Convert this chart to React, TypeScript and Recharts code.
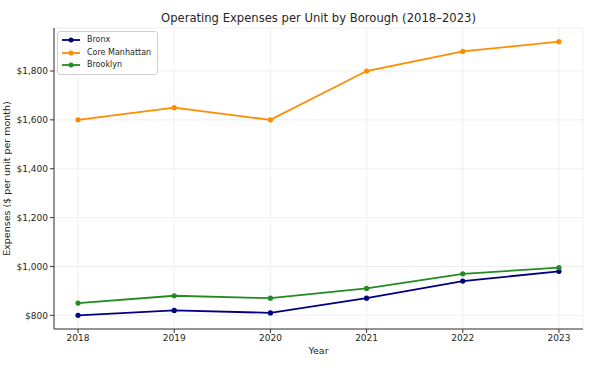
import React from 'react';
import { LineChart, Line, XAxis, YAxis, CartesianGrid } from 'recharts';

const years = [2018, 2019, 2020, 2021, 2022, 2023];
const bronx = [800, 820, 810, 870, 940, 980];
const coreManhattan = [1600, 1650, 1600, 1800, 1880, 1920];
const brooklyn = [850, 880, 870, 910, 970, 995];
const yTicks = [800, 1000, 1200, 1400, 1600, 1800];

const seriesInfo = [
  { key: 'bronx', label: 'Bronx', color: '#000080' },
  { key: 'core', label: 'Core Manhattan', color: '#ff8c00' },
  { key: 'brooklyn', label: 'Brooklyn', color: '#228b22' },
];

const data = years.map((year, i) => ({
  year,
  bronx: bronx[i],
  core: coreManhattan[i],
  brooklyn: brooklyn[i],
}));

const font = '"DejaVu Sans", sans-serif';
const textColor = '#262626';

// legend box sits over the plot, top-left like matplotlib's "best"
function LegendBox() {
  return (
    <div
      style={{
        position: 'absolute',
        left: 57,
        top: 31,
        whiteSpace: 'nowrap',
        background: 'rgba(255,255,255,0.85)',
        border: '1px solid #d0d0d0',
        borderRadius: 3,
        padding: '2px 6px 2px 3px',
        fontFamily: font,
        fontSize: 8,
        color: textColor,
        lineHeight: '12.5px',
      }}
    >
      {seriesInfo.map((s) => (
        <div key={s.key} style={{ display: 'flex', alignItems: 'center' }}>
          <svg width={20} height={8} style={{ marginRight: 6 }}>
            <line x1={1} y1={4} x2={19} y2={4} stroke={s.color} strokeWidth={1.8} />
            <circle cx={10} cy={4} r={2.5} fill={s.color} />
          </svg>
          <span>{s.label}</span>
        </div>
      ))}
    </div>
  );
}

export default function App() {
  return (
    <div style={{ position: 'absolute', left: 0, top: 0, width: 607, height: 372, background: '#fff' }}>
      <div
        style={{
          position: 'absolute',
          left: 54,
          width: 529,
          top: 11,
          textAlign: 'center',
          fontFamily: font,
          fontSize: 11.6,
          color: textColor,
        }}
      >
        Operating Expenses per Unit by Borough (2018–2023)
      </div>
      <LineChart
        width={607}
        height={372}
        data={data}
        margin={{ top: 28, right: 24, bottom: 0, left: 0 }}
      >
        <CartesianGrid stroke="#ebebeb" strokeWidth={0.8} />
        <XAxis
          dataKey="year"
          type="number"
          domain={[2017.75, 2023.25]}
          ticks={years}
          height={43}
          tick={{ fill: textColor, fontSize: 9, fontFamily: font }}
          tickLine={{ stroke: '#333' }}
          tickSize={4}
          axisLine={{ stroke: '#333', strokeWidth: 1 }}
          label={{ value: 'Year', position: 'insideBottom', offset: 18, fill: textColor, fontSize: 9.5, fontFamily: font }}
        />
        <YAxis
          type="number"
          domain={[744, 1976]}
          ticks={yTicks}
          width={54}
          tickFormatter={(v: number) => `$${v.toLocaleString('en-US')}`}
          tick={{ fill: textColor, fontSize: 9, fontFamily: font }}
          tickLine={{ stroke: '#333' }}
          tickSize={4}
          axisLine={{ stroke: '#333', strokeWidth: 1 }}
          label={{
            value: 'Expenses ($ per unit per month)',
            angle: -90,
            position: 'insideLeft',
            offset: 7,
            style: { textAnchor: 'middle', fill: textColor, fontSize: 9.5, fontFamily: font },
          }}
        />
        {seriesInfo.map((s) => (
          <Line
            key={s.key}
            dataKey={s.key}
            stroke={s.color}
            strokeWidth={1.8}
            dot={{ r: 2.6, fill: s.color, stroke: s.color, strokeWidth: 0 }}
            activeDot={false}
            isAnimationActive={false}
          />
        ))}
      </LineChart>
      <LegendBox />
    </div>
  );
}
